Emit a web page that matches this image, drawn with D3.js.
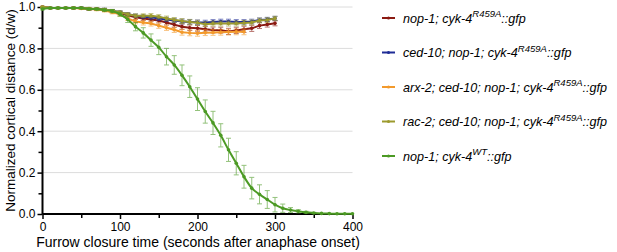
<!DOCTYPE html>
<html><head><meta charset="utf-8">
<script src="https://cdn.jsdelivr.net/npm/d3@7"></script>
<style>body{margin:0;background:#fff;}svg{display:block;font-family:"Liberation Sans",Arial,sans-serif;}</style>
</head><body><svg id="c" width="617" height="252"></svg>
<script>
const times = d3.range(0, 301, 10);
const timesOrange = d3.range(0, 261, 10);
const timesWT = d3.range(0, 401, 10);
const redVals = [1.0,0.995,0.995,0.995,0.995,0.995,0.99,0.99,0.985,0.98,0.97,0.96,0.95,0.945,0.94,0.935,0.925,0.915,0.905,0.9,0.897,0.893,0.889,0.888,0.882,0.887,0.892,0.897,0.91,0.916,0.921];
const redErr = [0.003,0.003,0.003,0.003,0.004,0.004,0.005,0.005,0.006,0.007,0.008,0.009,0.01,0.01,0.011,0.012,0.012,0.013,0.013,0.013,0.014,0.014,0.014,0.014,0.015,0.015,0.015,0.015,0.014,0.013,0.012];
const blueVals = [1.0,0.995,0.995,0.995,0.995,0.995,0.99,0.99,0.988,0.982,0.975,0.965,0.958,0.953,0.95,0.945,0.94,0.935,0.93,0.928,0.926,0.925,0.928,0.93,0.93,0.928,0.928,0.93,0.937,0.94,0.945];
const blueErr = [0.003,0.003,0.003,0.003,0.004,0.004,0.005,0.005,0.006,0.006,0.007,0.008,0.008,0.009,0.009,0.01,0.01,0.01,0.011,0.011,0.011,0.011,0.011,0.011,0.011,0.011,0.011,0.011,0.01,0.01,0.01];
const orangeVals = [1.0,0.995,0.995,0.995,0.995,0.993,0.99,0.988,0.983,0.975,0.965,0.945,0.93,0.925,0.92,0.91,0.9,0.89,0.878,0.875,0.873,0.876,0.877,0.878,0.879,0.88,0.88];
const orangeErr = [0.003,0.003,0.003,0.003,0.004,0.004,0.005,0.006,0.007,0.008,0.009,0.01,0.011,0.012,0.012,0.013,0.013,0.013,0.014,0.014,0.014,0.014,0.014,0.014,0.014,0.014,0.014];
const oliveVals = [1.0,0.995,0.995,0.995,0.995,0.995,0.993,0.99,0.988,0.982,0.975,0.965,0.958,0.958,0.958,0.953,0.945,0.938,0.932,0.928,0.924,0.917,0.92,0.92,0.92,0.92,0.923,0.925,0.935,0.937,0.945];
const oliveErr = [0.003,0.003,0.003,0.003,0.004,0.004,0.005,0.005,0.006,0.006,0.007,0.008,0.009,0.009,0.01,0.01,0.011,0.011,0.012,0.012,0.012,0.012,0.012,0.012,0.012,0.012,0.012,0.012,0.011,0.011,0.01];
const wtVals = [0.99,0.995,0.995,0.995,0.995,0.995,0.99,0.99,0.985,0.98,0.965,0.94,0.905,0.875,0.84,0.805,0.76,0.72,0.67,0.615,0.555,0.495,0.44,0.38,0.31,0.245,0.18,0.125,0.095,0.07,0.045,0.028,0.019,0.013,0.008,0.005,0.003,0.002,0.001,0.001,0.001];
const wtErr = [0.004,0.004,0.004,0.004,0.004,0.004,0.005,0.005,0.006,0.008,0.01,0.015,0.02,0.025,0.03,0.035,0.04,0.045,0.05,0.052,0.055,0.056,0.056,0.056,0.056,0.056,0.055,0.052,0.046,0.043,0.035,0.02,0.012,0.008,0.005,0.003,0.002,0.001,0.001,0.001,0.001];
const xTicks = [0,100,200,300,400];
const yTicks = [0.0,0.2,0.4,0.6,0.8,1.0];
const legendLabels = [
  {pre:"nop-1; cyk-4", sup:"R459A", post:"::gfp"},
  {pre:"ced-10; nop-1; cyk-4", sup:"R459A", post:"::gfp"},
  {pre:"arx-2; ced-10; nop-1; cyk-4", sup:"R459A", post:"::gfp"},
  {pre:"rac-2; ced-10; nop-1; cyk-4", sup:"R459A", post:"::gfp"},
  {pre:"nop-1; cyk-4", sup:"WT", post:"::gfp"}
];
const colors = ["#8b1a12","#1f2c96","#f39a2c","#9c9a2e","#4c9a24"];

const series = [
  {t:times, v:redVals, e:redErr, c:colors[0], curve:d3.curveLinear},
  {t:times, v:blueVals, e:blueErr, c:colors[1], curve:d3.curveLinear},
  {t:timesOrange, v:orangeVals, e:orangeErr, c:colors[2], curve:d3.curveLinear},
  {t:times, v:oliveVals, e:oliveErr, c:colors[3], curve:d3.curveLinear},
  {t:timesWT, v:wtVals, e:wtErr, c:colors[4], curve:d3.curveMonotoneX}
];

const svg = d3.select("#c");
const x = d3.scaleLinear().domain([0,400]).range([42.5,352.5]);
const y = d3.scaleLinear().domain([0,1]).range([214,7]);

svg.append("g").selectAll("line").data(yTicks.filter(d=>d>0)).join("line")
  .attr("x1",x(0)).attr("x2",x(400)).attr("y1",d=>y(d)).attr("y2",d=>y(d))
  .attr("stroke","#dcdcdc").attr("stroke-width",1);

const xAxis = svg.append("g").attr("transform",`translate(0,${y(0)})`)
  .call(d3.axisBottom(x).tickValues(xTicks).tickFormat(d3.format("d")).tickSize(5).tickPadding(3));
svg.append("g").attr("transform",`translate(0,${y(0)})`)
  .call(d3.axisBottom(x).tickValues([50,150,250,350]).tickFormat("").tickSize(4))
  .call(g=>g.select(".domain").remove());
const yAxis = svg.append("g").attr("transform",`translate(${x(0)},0)`)
  .call(d3.axisLeft(y).tickValues(yTicks).tickFormat(d3.format(".1f")).tickSize(5).tickPadding(2));
svg.append("g").attr("transform",`translate(${x(0)},0)`)
  .call(d3.axisLeft(y).tickValues([0.1,0.3,0.5,0.7,0.9]).tickFormat("").tickSize(4))
  .call(g=>g.select(".domain").remove());
svg.selectAll(".domain").attr("stroke","#000").attr("stroke-width",2);
svg.selectAll(".tick line").attr("stroke","#000").attr("stroke-width",1.5);
svg.selectAll(".tick text").attr("font-size",12).attr("fill","#000").attr("font-family","Liberation Sans, Arial, sans-serif");
xAxis.selectAll(".domain").attr("d",`M${x(0)},0H${x(400)}`);
yAxis.selectAll(".domain").attr("d",`M0,${y(0)}V${y(1)}`);

series.forEach(s=>{
  const g = svg.append("g");
  const pts = s.t.map((t,i)=>({t, v:s.v[i], e:s.e[i]}));
  const eb = g.append("g").attr("stroke",s.c).attr("stroke-width",1).attr("opacity",0.6);
  pts.forEach(p=>{
    const xx = x(p.t), y1 = y(Math.min(p.v+p.e,1.005)), y2 = y(p.v-p.e);
    if (y2-y1 < 1) return;
    eb.append("line").attr("x1",xx).attr("x2",xx).attr("y1",y1).attr("y2",y2);
    eb.append("line").attr("x1",xx-2.5).attr("x2",xx+2.5).attr("y1",y1).attr("y2",y1);
    eb.append("line").attr("x1",xx-2.5).attr("x2",xx+2.5).attr("y1",y2).attr("y2",y2);
  });
  g.append("path").datum(pts).attr("fill","none").attr("stroke",s.c).attr("stroke-width",2)
    .attr("d",d3.line().x(d=>x(d.t)).y(d=>y(d.v)).curve(s.curve));
  g.selectAll("circle").data(pts).join("circle").attr("cx",d=>x(d.t)).attr("cy",d=>y(d.v)).attr("r",1.8).attr("fill",s.c);
});

svg.append("text").attr("x",198).attr("y",247).attr("text-anchor","middle")
  .attr("font-size",14).attr("fill","#000").text("Furrow closure time (seconds after anaphase onset)");
svg.append("text").attr("transform",`translate(15,${(y(0)+y(1))/2}) rotate(-90)`).attr("text-anchor","middle")
  .attr("font-size",13.5).attr("fill","#000").text("Normalized cortical distance (d/w)");

const lg = svg.append("g");
legendLabels.forEach((l,i)=>{
  const yy = 18 + i*34.5;
  lg.append("line").attr("x1",382).attr("x2",395).attr("y1",yy).attr("y2",yy).attr("stroke",colors[i]).attr("stroke-width",2);
  lg.append("circle").attr("cx",388.5).attr("cy",yy).attr("r",1.5).attr("fill",colors[i]);
  const t = lg.append("text").attr("x",403).attr("y",yy+4.5).attr("font-size",12.6).attr("font-style","italic").attr("fill","#000");
  t.append("tspan").text(l.pre);
  t.append("tspan").attr("dy",-5.5).attr("font-size",9.5).text(l.sup);
  t.append("tspan").attr("dy",5.5).text(l.post);
});
</script></body></html>
